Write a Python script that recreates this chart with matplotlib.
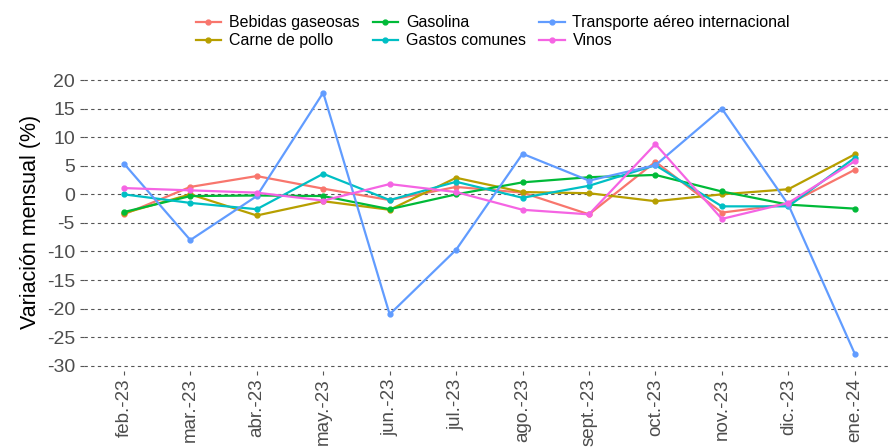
import matplotlib.pyplot as plt
import numpy as np

plt.rcParams['font.family'] = ['Liberation Sans', 'DejaVu Sans']
plt.rcParams['axes.unicode_minus'] = False

# Meses del periodo
meses = ['feb.-23', 'mar.-23', 'abr.-23', 'may.-23', 'jun.-23', 'jul.-23',
         'ago.-23', 'sept.-23', 'oct.-23', 'nov.-23', 'dic.-23', 'ene.-24']

# Variación mensual (%) por producto
bebidas_gaseosas = [-3.5, 1.3, 3.2, 1.0, -1.0, 1.3, 0.3, -3.5, 5.7, -3.2, -1.7, 4.3]
carne_de_pollo = [-3.3, 0.0, -3.7, -1.2, -2.7, 2.9, 0.4, 0.2, -1.2, 0.0, 0.9, 7.0]
gasolina = [-3.1, -0.3, -0.2, -0.3, -2.6, 0.0, 2.1, 3.0, 3.4, 0.5, -1.8, -2.5]
gastos_comunes = [0.0, -1.5, -2.6, 3.6, -1.0, 2.2, -0.6, 1.5, 5.1, -2.1, -2.1, 6.4]
transporte_aereo = [5.4, -8.0, -0.3, 17.8, -21.0, -9.7, 7.1, 2.4, 5.1, 15.0, -1.8, -27.9]
vinos = [1.1, 0.7, 0.3, -1.1, 1.8, 0.4, -2.7, -3.5, 8.8, -4.3, -1.5, 5.8]

series = [
    ('Bebidas gaseosas', bebidas_gaseosas, '#F8766D'),
    ('Carne de pollo', carne_de_pollo, '#B79F00'),
    ('Gasolina', gasolina, '#00BA38'),
    ('Gastos comunes', gastos_comunes, '#00BFC4'),
    ('Transporte aéreo internacional', transporte_aereo, '#619CFF'),
    ('Vinos', vinos, '#F564E3'),
]

fig = plt.figure(figsize=(8.88, 4.47), dpi=100)
ax = fig.add_axes([84 / 888, 0.169, 1 - 84 / 888, 0.671])

x = np.arange(len(meses))
for nombre, valores, color in series:
    ax.plot(x, valores, color=color, lw=1.6, marker='o', ms=3.5, label=nombre)

ax.set_xlim(-0.6, 11.5)
ax.set_ylim(-31, 21.5)
ax.set_yticks(np.arange(-30, 21, 5))
ax.yaxis.grid(True, color='#555555', linestyle=(0, (3, 3)), lw=0.8)
ax.set_axisbelow(True)
for s in ax.spines.values():
    s.set_visible(False)

ax.set_xticks(x)
ax.set_xticklabels(meses, rotation=90, fontsize=13.5, color='#4D4D4D')
ax.tick_params(axis='y', labelsize=14, labelcolor='#4D4D4D', length=3, color='#555555')
ax.tick_params(axis='x', length=3, color='#555555', pad=2)
ax.set_ylabel('Variación mensual (%)', fontsize=15.5, color='black')

fig.legend(loc='center', bbox_to_anchor=(0.555, 0.929), ncol=3, frameon=False,
           fontsize=11.5, handlelength=1.6, columnspacing=0.8, labelspacing=0.2,
           handletextpad=0.5)

fig.savefig('out.png', dpi=100)
